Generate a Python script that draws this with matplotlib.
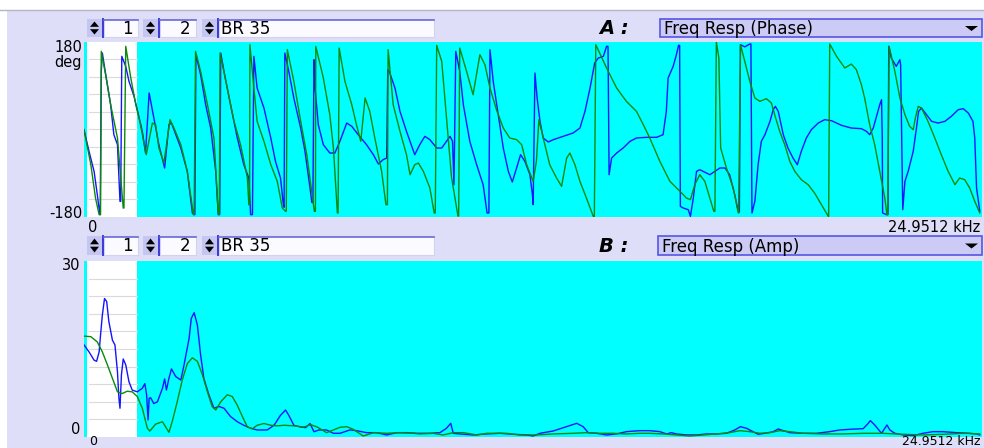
import matplotlib
matplotlib.use("Agg")
import matplotlib.pyplot as plt
from matplotlib.patches import Rectangle, Polygon

plt.rcParams['font.family'] = ['DejaVu Sans']

# ---------------- data ----------------
x_max_khz = 24.9512
x_tick_labels = ["0", "24.9512 kHz"]
phase_tick_labels = ["180", "deg", "-180"]
amp_tick_labels = ["30", "0"]
channel_a = "1"
channel_b = "2"
channel_name = "BR 35"
panel_titles = ["Freq Resp (Phase)", "Freq Resp (Amp)"]
panel_letters = ["A :", "B :"]

freq_blue_phase = [0.00, 0.14, 0.28, 0.37, 0.44, 0.45, 0.48, 0.51, 0.56, 0.65, 0.74, 0.83, 0.93, 1.00, 1.02,
                   1.05, 1.16, 1.25, 1.39, 1.48, 1.62, 1.71, 1.81, 1.94, 2.08, 2.24, 2.36, 2.43, 2.55, 2.69,
                   2.87, 3.01, 3.06, 3.08, 3.11, 3.24, 3.38, 3.52, 3.66, 3.73, 3.77, 3.80, 3.89, 4.07, 4.26,
                   4.44, 4.58, 4.63, 4.68, 4.72, 4.81, 5.00, 5.19, 5.32, 5.46, 5.54, 5.56, 5.58, 5.69, 5.83,
                   6.02, 6.14, 6.28, 6.33, 6.36, 6.39, 6.42, 6.51, 6.65, 6.83, 6.97, 7.11, 7.30, 7.44, 7.62,
                   7.85, 8.04, 8.18, 8.31, 8.41, 8.44, 8.48, 8.64, 8.78, 8.96, 9.19, 9.33, 9.47, 9.61, 9.80,
                   9.94, 10.07, 10.17, 10.24, 10.28, 10.33, 10.44, 10.54, 10.72, 10.91, 11.09, 11.20, 11.25,
                   11.28, 11.37, 11.51, 11.65, 11.79, 11.90, 12.02, 12.13, 12.25, 12.39, 12.46, 12.48, 12.53,
                   12.59, 12.67, 12.76, 12.90, 13.04, 13.31, 13.59, 13.78, 13.92, 14.06, 14.19, 14.29, 14.43,
                   14.52, 14.56, 14.59, 14.66, 14.80, 14.98, 15.17, 15.35, 15.63, 15.91, 16.09, 16.18, 16.23,
                   16.37, 16.46, 16.52, 16.55, 16.57, 16.65, 16.79, 16.85, 16.93, 17.02, 17.11, 17.39, 17.67,
                   17.81, 17.94, 18.08, 18.18, 18.21, 18.24, 18.36, 18.50, 18.53, 18.56, 18.64, 18.73, 18.82,
                   18.92, 19.06, 19.15, 19.21, 19.29, 19.43, 19.56, 19.70, 19.82, 19.93, 20.07, 20.21, 20.40,
                   20.58, 20.77, 21.05, 21.32, 21.60, 21.74, 21.83, 21.93, 22.02, 22.11, 22.16, 22.18, 22.19,
                   22.30, 22.34, 22.36, 22.43, 22.57, 22.67, 22.69, 22.75, 22.81, 22.90, 23.04, 23.13, 23.19,
                   23.27, 23.41, 23.55, 23.73, 23.92, 24.10, 24.29, 24.43, 24.57, 24.70, 24.75, 24.80, 24.89]
blue_phase = [-0.4, -45.0, -86.1, -134.1, -175.2, -175.0, 119.6, 157.3, 133.3, 92.2, 51.1, -10.7, -31.2, -147.8,
              -147.8, 150.5, 129.9, 99.1, 68.2, 40.8, -3.8, -48.4, 75.1, 23.6, -31.2, -79.2, 9.9, 13.3, -10.7,
              -38.1, -86.1, -171.8, -175.0, -175.0, 153.9, 112.8, 51.1, 3.0, -86.1, -175.2, -175.0, 157.3,
              119.6, 51.1, -17.5, -72.4, -99.8, -175.2, -175.0, 150.5, 85.3, 44.2, -17.5, -65.5, -99.8,
              -154.7, -160.0, 157.3, 119.6, 64.8, 3.0, -45.0, -120.4, -150.0, -150.0, 143.6, 85.3, 9.9,
              -31.2, -48.4, -48.4, -24.4, 13.3, 6.5, -10.7, -31.2, -51.8, -71.0, -62.1, -58.7, 123.1, 120.0,
              85.3, 37.3, -3.8, -51.8, -31.2, -14.1, -20.9, -38.1, -38.1, -24.4, -14.1, -24.4, -113.5, 160.8,
              119.6, 51.1, -24.4, -72.4, -113.5, -171.8, -171.8, 164.2, 99.1, 30.5, -38.1, -86.1, -108.0,
              -79.2, -51.8, -65.5, -93.0, -134.1, -154.7, 116.2, 64.8, 16.8, -17.5, -25.7, -20.9, -14.1,
              -7.2, 3.0, 37.3, 85.3, 136.8, 147.1, 150.5, 171.1, 171.0, -93.0, -58.7, -48.4, -38.1, -24.4,
              -17.5, -16.1, -16.1, -10.7, 37.3, 105.9, 129.9, 153.9, 173.1, 173.0, -158.1, -161.5, -165.0,
              -178.6, -141.0, -86.1, -82.7, -93.0, -79.2, -79.2, -93.0, -134.1, -168.4, -170.0, 174.5, 170.0,
              175.9, 176.0, -171.8, -147.8, -72.4, -24.4, -10.7, 16.8, 40.8, 47.6, 37.3, -10.7, -38.1, -58.7,
              -72.4, -45.0, -17.5, -0.4, 13.3, 20.2, 18.1, 8.5, 3.0, 1.7, -3.8, -10.7, 3.0, 27.1, 51.1, 61.3,
              -17.5, -171.8, -175.2, -175.0, 171.1, 147.1, 129.9, 143.6, 133.3, -165.0, -106.7, -86.1, -45.0,
              3.0, 37.3, 44.2, 30.5, 16.8, 13.3, 16.8, 27.1, 40.8, 42.8, 33.9, 16.8, -17.5, -120.4, -168.4]

freq_green_phase = [0.00, 0.19, 0.32, 0.42, 0.46, 0.48, 0.60, 0.74, 0.93, 1.02, 1.09, 1.11, 1.16, 1.30, 1.44,
                    1.57, 1.73, 1.90, 1.99, 2.08, 2.22, 2.39, 2.50, 2.69, 2.87, 3.04, 3.06, 3.10, 3.24, 3.43,
                    3.61, 3.66, 3.73, 3.76, 3.78, 3.98, 4.17, 4.35, 4.54, 4.58, 4.60, 4.61, 4.72, 4.81, 5.00,
                    5.19, 5.37, 5.51, 5.60, 5.62, 5.65, 5.83, 6.02, 6.19, 6.40, 6.43, 6.44, 6.65, 6.83, 6.93,
                    7.04, 7.06, 7.09, 7.25, 7.44, 7.57, 7.69, 7.81, 7.94, 8.08, 8.27, 8.39, 8.43, 8.45, 8.59,
                    8.78, 8.96, 9.06, 9.19, 9.29, 9.43, 9.61, 9.73, 9.76, 9.80, 9.94, 10.07, 10.21, 10.39,
                    10.41, 10.44, 10.63, 10.81, 11.00, 11.14, 11.28, 11.46, 11.65, 11.83, 12.02, 12.16, 12.30,
                    12.48, 12.57, 12.64, 12.76, 12.94, 13.13, 13.27, 13.41, 13.50, 13.64, 13.78, 13.96, 14.15,
                    14.18, 14.22, 14.52, 14.80, 15.07, 15.35, 15.54, 15.72, 16.00, 16.28, 16.56, 16.74, 16.85,
                    16.97, 17.11, 17.25, 17.39, 17.50, 17.53, 17.57, 17.64, 17.69, 17.85, 18.04, 18.18, 18.19,
                    18.24, 18.36, 18.50, 18.64, 18.78, 18.96, 19.10, 19.19, 19.33, 19.47, 19.61, 19.75, 19.93,
                    20.12, 20.30, 20.49, 20.68, 20.69, 20.72, 20.91, 21.14, 21.32, 21.46, 21.60, 21.69, 21.83,
                    21.97, 22.11, 22.25, 22.31, 22.33, 22.37, 22.53, 22.67, 22.81, 22.94, 23.04, 23.10, 23.18,
                    23.27, 23.45, 23.64, 23.82, 24.01, 24.20, 24.33, 24.47, 24.61, 24.75, 24.89]
green_phase = [-0.4, -72.4, -141.0, -175.2, -175.0, 160.8, 112.8, 51.1, -17.5, -99.8, -161.5, -161.5, 171.1,
               105.9, 51.1, 9.9, -51.8, 13.3, 9.9, -38.1, -69.0, 20.2, 3.0, -31.2, -86.1, -175.2, -175.0, 160.8,
               119.6, 51.1, -17.5, -80.0, -171.8, -175.0, 157.3, 85.3, 16.8, -31.2, -99.8, -154.7, -155.0,
               174.5, 85.3, 16.8, -24.4, -72.4, -106.7, -161.5, -168.4, -168.0, 164.2, 99.1, 16.8, -51.8,
               -168.4, -168.4, 171.1, 105.9, 30.5, -38.1, -171.8, -171.8, 167.6, 99.1, 51.1, 9.9, -24.4, 64.8,
               37.3, -17.5, -86.1, -154.7, -154.7, 164.2, 51.1, -3.8, -51.8, -93.0, -72.4, -69.0, -86.1,
               -120.4, -171.8, -171.8, 173.1, 140.0, 26.0, -97.0, -178.0, -178.0, 167.6, 119.6, 71.6, 153.9,
               133.3, 85.3, 40.8, 3.0, -17.5, -20.9, -31.2, -72.4, -106.7, -65.5, 20.2, -17.5, -72.4, -99.8,
               -117.0, -58.7, -48.4, -72.4, -106.7, -141.0, -178.6, -178.6, 174.5, 126.5, 85.3, 57.9, 37.3,
               9.9, -17.5, -65.5, -106.7, -127.2, -141.0, -144.4, -113.5, -93.0, -106.7, -141.0, -168.4,
               -168.4, 180.0, 147.1, -38.1, -79.2, -120.4, -171.8, -171.8, 174.5, 140.2, 99.1, 64.8, 57.9,
               63.4, 54.5, 30.5, -3.8, -31.2, -65.5, -86.1, -103.2, -113.5, -130.7, -154.7, -178.6, -178.6,
               175.9, 150.5, 126.5, 134.7, 123.1, 92.2, 64.8, 9.9, -31.2, -86.1, -141.0, -175.2, -175.2, 171.1,
               119.6, 64.8, 30.5, 6.5, -0.4, 23.6, 47.6, 44.2, 16.8, -17.5, -51.8, -86.1, -113.5, -99.8,
               -103.2, -120.4, -147.8, -171.8]

freq_blue_amp = [0.00, 0.14, 0.28, 0.35, 0.42, 0.46, 0.51, 0.57, 0.63, 0.69, 0.79, 0.86, 0.93, 0.97, 1.00, 1.04,
                 1.09, 1.16, 1.25, 1.34, 1.48, 1.62, 1.69, 1.74, 1.78, 1.81, 1.85, 1.94, 2.04, 2.18, 2.24, 2.29,
                 2.36, 2.43, 2.55, 2.69, 2.78, 2.92, 2.98, 3.06, 3.15, 3.24, 3.33, 3.47, 3.61, 3.75, 3.89, 4.07,
                 4.26, 4.44, 4.63, 4.81, 5.09, 5.28, 5.46, 5.60, 5.69, 5.83, 6.02, 6.16, 6.28, 6.39, 6.53, 6.74,
                 6.93, 7.11, 7.39, 7.57, 7.85, 8.13, 8.41, 8.69, 8.96, 9.24, 9.61, 9.89, 10.07, 10.19, 10.26,
                 10.44, 10.81, 11.19, 11.56, 11.93, 12.30, 12.48, 12.67, 13.04, 13.41, 13.69, 13.87, 14.01,
                 14.24, 14.52, 14.80, 15.07, 15.44, 15.72, 16.00, 16.19, 16.32, 16.46, 16.74, 17.02, 17.30,
                 17.57, 17.85, 18.08, 18.24, 18.41, 18.59, 18.73, 18.92, 19.15, 19.29, 19.43, 19.61, 19.98,
                 20.35, 20.72, 21.00, 21.28, 21.65, 21.79, 21.85, 21.97, 22.16, 22.25, 22.31, 22.39, 22.53,
                 22.76, 23.04, 23.31, 23.59, 23.87, 24.24, 24.61, 24.80, 24.89]
blue_amp = [15.7, 14.5, 13.1, 12.9, 14.5, 17.4, 20.8, 23.6, 23.1, 19.7, 16.5, 15.7, 11.1, 6.6, 4.9, 10.6, 13.3,
            12.3, 9.4, 8.0, 7.7, 8.3, 9.1, 7.2, 2.9, 6.6, 6.7, 5.7, 6.0, 8.3, 9.9, 8.0, 10.0, 11.6, 10.3, 9.7,
            12.3, 16.8, 20.2, 21.2, 19.1, 14.0, 10.0, 7.2, 4.9, 5.2, 4.9, 3.5, 2.6, 2.0, 1.5, 1.2, 1.2, 2.0, 3.7,
            4.6, 3.7, 2.0, 1.7, 1.6, 2.3, 0.9, 1.2, 1.2, 0.63, 0.63, 1.2, 1.08, 0.74, 0.74, 0.35, 0.74, 0.74,
            0.63, 0.63, 0.74, 1.48, 2.33, 0.63, 0.52, 0.35, 0.52, 0.63, 0.46, 0.35, 0.17, 0.63, 1.03, 1.76,
            2.33, 1.76, 0.74, 0.63, 0.35, 0.52, 0.91, 1.08, 1.08, 0.91, 0.52, 0.74, 0.52, 0.35, 0.35, 0.52,
            0.52, 0.63, 1.2, 1.76, 1.48, 0.91, 0.46, 0.63, 0.91, 1.37, 1.08, 0.74, 0.63, 0.63, 0.91, 1.2, 1.31,
            1.42, 2.33, 2.79, 2.05, 0.63, 1.48, 2.05, 1.2, 0.63, 0.35, 0.23, 0.63, 0.91, 0.91, 0.74, 0.63, 0.52,
            0.35]

freq_green_amp = [0.00, 0.19, 0.37, 0.51, 0.65, 0.79, 0.93, 1.06, 1.20, 1.34, 1.48, 1.62, 1.76, 1.83, 1.99,
                  2.18, 2.27, 2.36, 2.45, 2.59, 2.73, 2.87, 3.01, 3.15, 3.29, 3.43, 3.56, 3.66, 3.80, 3.98, 4.12,
                  4.26, 4.40, 4.54, 4.68, 4.81, 5.00, 5.19, 5.37, 5.56, 5.83, 6.11, 6.30, 6.48, 6.74, 6.93, 7.11,
                  7.30, 7.48, 7.76, 8.04, 8.41, 8.78, 9.15, 9.33, 9.70, 9.98, 10.26, 10.54, 10.91, 11.19, 11.74,
                  12.11, 12.57, 13.04, 13.59, 13.96, 14.33, 14.70, 15.07, 15.44, 15.72, 16.09, 16.46, 16.83,
                  17.20, 17.57, 17.94, 18.22, 18.50, 18.78, 19.06, 19.33, 19.61, 19.98, 20.54, 21.09, 21.65,
                  22.20, 22.76, 23.31, 23.87, 24.43, 24.89]
green_amp = [17.2, 17.1, 16.2, 14.5, 12.3, 10.0, 7.7, 7.4, 7.8, 7.7, 6.9, 4.9, 1.5, 1.0, 2.2, 2.6, 1.7, 0.8, 2.6,
             6.0, 9.7, 12.5, 13.5, 12.9, 10.6, 7.7, 5.2, 4.6, 6.0, 7.2, 6.9, 5.4, 3.5, 1.7, 1.4, 2.0, 2.3, 2.0,
             1.9, 2.0, 1.9, 1.7, 2.1, 1.7, 0.74, 1.2, 1.65, 1.76, 1.31, 0.17, 0.74, 0.63, 0.74, 0.63, 0.52, 0.63,
             0.35, 0.74, 0.74, 0.35, 0.63, 0.63, 0.35, 0.35, 0.52, 0.63, 0.74, 0.63, 0.63, 0.52, 0.63, 0.63,
             0.52, 0.35, 0.17, 0.35, 0.52, 0.74, 1.08, 0.91, 0.63, 0.74, 1.08, 0.91, 0.63, 0.52, 0.52, 0.63,
             0.63, 0.46, 0.35, 0.46, 0.63, 0.52]

# ---------------- styling ----------------
W, H = 984, 448
LAV = '#dedef8'
CYAN = '#00ffff'
BLUE = '#1414ff'
GREEN = '#0a8a0a'

fig = plt.figure(figsize=(W / 100, H / 100), dpi=100)
fig.patch.set_facecolor(LAV)

ui = fig.add_axes([0, 0, 1, 1], zorder=0)
ui.set_xlim(0, W)
ui.set_ylim(H, 0)
ui.axis('off')

# top white band and left white strip
ui.add_patch(Rectangle((0, 0), W, 10, fc='white', ec='none'))
ui.plot([0, W], [10.5, 10.5], color='#b4b4c8', lw=1.0)
ui.add_patch(Rectangle((0, 10), 7, H - 10, fc='white', ec='none'))


def spin(x, y, h, wbox, label, align):
    ui.add_patch(Rectangle((x, y), 15, h, fc='#c6c6f2', ec='none'))
    ui.plot([x + 15.5, x + 15.5], [y, y + h], color='#3a3ad6', lw=1.4)
    yc = y + h / 2
    ui.add_patch(Polygon([(x + 3, yc - 1.2), (x + 12, yc - 1.2), (x + 7.5, y + 2.5)], closed=True,
                         fc='black', ec='none'))
    ui.add_patch(Polygon([(x + 3, yc + 1.2), (x + 12, yc + 1.2), (x + 7.5, y + h - 2.5)], closed=True,
                         fc='black', ec='none'))
    ui.add_patch(Rectangle((x + 16.5, y), wbox, h, fc='#fbfbff', ec='#d2d2ee', lw=0.8))
    ui.plot([x + 16.5, x + 16.5 + wbox], [y + 0.6, y + 0.6], color='#6a6ad8', lw=1.2)
    if align == 'right':
        ui.text(x + 16.5 + wbox - 5, yc + 0.5, label, ha='right', va='center', fontsize=12, color='black')
    else:
        ui.text(x + 19, yc + 0.5, label, ha='left', va='center', fontsize=12, color='black')


def dropdown(x0, x1, y, h, label):
    ui.add_patch(Rectangle((x0, y), x1 - x0, h, fc='#cbcbf5', ec='#5656e4', lw=1.2))
    ui.text(x0 + 4, y + h / 2 + 0.5, label, ha='left', va='center', fontsize=12, color='black')
    yc = y + h / 2
    ui.add_patch(Polygon([(x1 - 17, yc - 2.5), (x1 - 4, yc - 2.5), (x1 - 10.5, yc + 2.5)], closed=True,
                         fc='black', ec='none'))


for (row_y, h, letter, title, dd_x0) in [(19, 18, panel_letters[0], panel_titles[0], 660),
                                        (236, 19, panel_letters[1], panel_titles[1], 658)]:
    spin(87, row_y, h, 34, channel_a, 'right')
    spin(143, row_y, h, 36, channel_b, 'right')
    spin(202, row_y, h, 215, channel_name, 'left')
    ui.text(599, row_y + h / 2 + 0.5, letter, ha='left', va='center', fontsize=14,
            fontweight='bold', fontstyle='italic', color='black')
    dropdown(dd_x0, 982, row_y + 0.5, h, title)

# axis labels (text)
fs = 10.5
ui.text(82, 47, phase_tick_labels[0], ha='right', va='center', fontsize=fs)
ui.text(82, 63, phase_tick_labels[1], ha='right', va='center', fontsize=fs)
ui.text(82, 213, phase_tick_labels[2], ha='right', va='center', fontsize=fs)
ui.text(93, 228, x_tick_labels[0], ha='center', va='center', fontsize=fs)
ui.text(980, 228, x_tick_labels[1], ha='right', va='center', fontsize=fs)
ui.text(80, 265, amp_tick_labels[0], ha='right', va='center', fontsize=fs)
ui.text(80, 430, amp_tick_labels[1], ha='right', va='center', fontsize=fs)

# bottom x labels: drawn above the panels so they stay whole inside the figure
fig.text(93 / W, 1 - 444.5 / H, x_tick_labels[0], ha='center', va='baseline', fontsize=9, zorder=5)
fig.text(980 / W, 1 - 444.5 / H, x_tick_labels[1], ha='right', va='baseline', fontsize=9, zorder=5)

# plot panels
L, R = 84, 982
ax1 = fig.add_axes([L / W, 1 - 217 / H, (R - L) / W, 175 / H], zorder=2)
ax2 = fig.add_axes([L / W, 1 - 437 / H, (R - L) / W, 176 / H], zorder=2)

white_x0 = 3 / (R - L)
white_x1 = 53 / (R - L)

for ax, ylim, grid in [(ax1, (-180, 180), range(-144, 180, 36)),
                       (ax2, (0, 30), range(3, 30, 3))]:
    ax.set_facecolor(CYAN)
    ax.set_xlim(0, x_max_khz)
    ax.set_ylim(*ylim)
    ax.add_patch(Rectangle((white_x0, 0), white_x1 - white_x0, 1, transform=ax.transAxes,
                           fc='white', ec='none', zorder=0.5))
    for g in grid:
        ax.axhline(g, xmin=white_x0 + 0.002, xmax=white_x1, color='#dadada', lw=0.8, zorder=0.8)
    ax.set_xticks([])
    ax.set_yticks([])
    for s in ax.spines.values():
        s.set_visible(False)

ax1.plot(freq_blue_phase, blue_phase, color=BLUE, lw=1.0, zorder=2)
ax1.plot(freq_green_phase, green_phase, color=GREEN, lw=1.0, zorder=3)
ax2.plot(freq_blue_amp, blue_amp, color=BLUE, lw=1.0, zorder=2)
ax2.plot(freq_green_amp, green_amp, color=GREEN, lw=1.0, zorder=3)

fig.savefig('out.png', dpi=100, facecolor=fig.get_facecolor())
